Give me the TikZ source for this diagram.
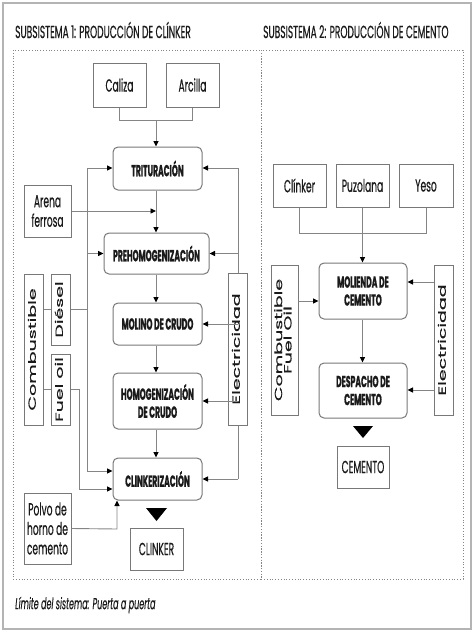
\documentclass[tikz,border=0pt]{standalone}
\usepackage{fontspec}
\setmainfont{Poppins}
\newfontfamily\nf[FakeStretch=0.52,FakeBold=0.4]{Poppins}
\newfontfamily\itfnt[FakeStretch=0.5,FakeBold=0.3]{Poppins}
\newfontfamily\bnf[FakeStretch=0.48,FakeBold=1]{Poppins}
\newfontfamily\rf[FakeBold=0.5]{Poppins}
\usetikzlibrary{arrows.meta}
\definecolor{boxgray}{HTML}{787878}
\definecolor{linegray}{HTML}{858585}
\definecolor{framegray}{HTML}{B4B4B4}
\definecolor{txt}{HTML}{1A1A1A}
\newcommand\vtext[1]{\rotatebox{90}{\scalebox{1}[0.55]{\rf\fontsize{19}{21}\selectfont\begin{tabular}{@{}c@{}}#1\end{tabular}}}}
\begin{document}
\begin{tikzpicture}[x=1pt,y=-1pt,
  box/.style={draw=boxgray, line width=1pt, fill=white, inner sep=0pt, align=center, text=txt,
    font=\nf\fontsize{17.5}{19.5}\selectfont},
  proc/.style={box, rounded corners=5pt, font=\bnf\bfseries\fontsize{16}{18}\selectfont},
  vbox/.style={box},
  ln/.style={draw=linegray, line width=0.9pt},
  arr/.style={ln, -{Stealth[length=5.5pt,width=5pt,inset=0pt,color=black]}},
  ttl/.style={anchor=west, inner sep=0pt, text=txt, font=\nf\fontsize{17.5}{19}\selectfont}]
\useasboundingbox (0,0) rectangle (474,632);
\draw[framegray, line width=1.5pt] (3,3) rectangle (471,629);
\draw[linegray, dotted, line width=0.8pt] (13,50) rectangle (261,579);
\draw[linegray, dotted, line width=0.8pt] (261,50) rectangle (463,579);
\node[ttl] (t1) at (15,30) {SUBSISTEMA 1: PRODUCCIÓN DE CLÍNKER};
\node[ttl] (t2) at (263,30) {SUBSISTEMA 2: PRODUCCIÓN DE CEMENTO};
\node[ttl, font=\itfnt\itshape\fontsize{16}{18}\selectfont] (lim) at (15,605) {Límite del sistema: Puerta a puerta};
% left subsystem
\node[box, minimum width=53pt, minimum height=44pt] (caliza) at (119.5,85) {Caliza};
\node[box, minimum width=53pt, minimum height=44pt] (arcilla) at (192.5,85) {Arcilla};
\node[proc, minimum width=89pt, minimum height=43pt] (trit) at (157.5,168.5) {TRITURACIÓN};
\node[box, minimum width=47pt, minimum height=52pt] (arena) at (47.5,211) {Arena\\ferrosa};
\node[proc, minimum width=105pt, minimum height=41pt] (prehomo) at (156.5,253.5) {PREHOMOGENIZACIÓN};
\node[proc, minimum width=89pt, minimum height=42pt] (molino) at (157.5,324) {MOLINO DE CRUDO};
\node[proc, minimum width=89pt, minimum height=56pt] (homog) at (157.5,401) {HOMOGENIZACIÓN\\DE CRUDO};
\node[proc, minimum width=89pt, minimum height=42pt] (clink) at (157.5,479) {CLINKERIZACIÓN};
\node[vbox, minimum width=19pt, minimum height=151pt] (comb) at (33.5,349.5) {\vtext{Combustible}};
\node[vbox, minimum width=19pt, minimum height=71pt] (diesel) at (60.5,309.5) {\vtext{Diésel}};
\node[vbox, minimum width=19pt, minimum height=71pt] (fuel) at (60.5,389.5) {\vtext{Fuel oil}};
\node[vbox, minimum width=19pt, minimum height=152pt] (elec) at (237.5,349) {\vtext{Electricidad}};
\node[box, minimum width=47pt, minimum height=71pt] (polvo) at (47.5,528.5) {Polvo de\\horno de\\cemento};
\node[box, minimum width=53pt, minimum height=42pt] (clinkerout) at (156.5,549) {CLINKER};
\fill[black] (146,508) -- (167,508) -- (156.5,521) -- cycle;
% left connectors
\coordinate (j1) at (156,120);
\draw[ln] (caliza.south) -- (caliza.south |- j1) -- (arcilla.south |- j1) -- (arcilla.south);
\draw[arr] (j1) -- (j1 |- trit.north);
\draw[arr] (j1 |- trit.south) -- (j1 |- prehomo.north);
\coordinate (ar) at (156,211);
\draw[arr] (arena.east) -- (ar);
\draw[arr] (j1 |- prehomo.south) -- (j1 |- molino.north);
\draw[arr] (j1 |- molino.south) -- (j1 |- homog.north);
\draw[arr] (j1 |- homog.south) -- (j1 |- clink.north);
\coordinate (bl1) at (87,168);
\coordinate (bl5) at (87,471);
\draw[ln] (bl1) -- (bl5);
\draw[arr] (bl1) -- (bl1 -| trit.west);
\draw[arr] (bl1 |- prehomo.west) -- (prehomo.west);
\draw[arr] (bl5) -- (bl5 -| clink.west);
\draw[ln] (diesel.east) -- (diesel.east -| bl1);
\draw[ln] (comb.east |- diesel.east) -- (diesel.west);
\draw[ln] (comb.east |- fuel.west) -- (fuel.west);
\coordinate (fo) at (79,489);
\draw[arr] (fuel.east) -| (fo) -- (fo -| clink.west);
\coordinate (pc) at (117,529);
\draw[arr] (polvo.east) -- (pc) -- (pc |- clink.south);
\coordinate (er1) at (238,168);
\coordinate (er5) at (238,479);
\draw[ln] (er1) -- (er1 |- elec.north);
\draw[ln] (er5 |- elec.south) -- (er5);
\draw[arr] (er1) -- (er1 -| trit.east);
\draw[arr] (er1 |- prehomo.east) -- (prehomo.east);
\draw[arr] (er1 |- molino.east) -- (molino.east);
\draw[arr] (er1 |- homog.east) -- (homog.east);
\draw[arr] (er5) -- (er5 -| clink.east);
% right subsystem
\node[box, minimum width=53pt, minimum height=43pt] (clinker) at (299.5,185.5) {Clínker};
\node[box, minimum width=53pt, minimum height=43pt] (puzo) at (362.5,185.5) {Puzolana};
\node[box, minimum width=54pt, minimum height=43pt] (yeso) at (426,185.5) {Yeso};
\node[proc, minimum width=88pt, minimum height=56pt] (mol) at (363,291) {MOLIENDA DE\\CEMENTO};
\node[proc, minimum width=88pt, minimum height=55pt] (desp) at (363,390.5) {DESPACHO DE\\CEMENTO};
\node[vbox, minimum width=27pt, minimum height=150pt] (combr) at (284.5,340) {\vtext{Combustible\\[-4pt]Fuel Oil}};
\node[vbox, minimum width=19pt, minimum height=150pt] (elecr) at (443.5,340) {\vtext{Electricidad}};
\node[box, minimum width=52pt, minimum height=42pt] (cemento) at (363,467) {CEMENTO};
\fill[black] (353,426) -- (373,426) -- (363,438) -- cycle;
\coordinate (j2) at (362.5,233);
\draw[ln] (clinker.south) -- (clinker.south |- j2) -- (yeso.south |- j2) -- (yeso.south);
\draw[ln] (puzo.south) -- (j2);
\draw[arr] (j2) -- (j2 |- mol.north);
\draw[arr] (j2 |- mol.south) -- (j2 |- desp.north);
\coordinate (cr) at (298,301);
\draw[arr] (cr) -- (cr -| mol.west);
\coordinate (e1) at (434,282);
\coordinate (e2) at (434,390);
\draw[arr] (e1) -- (e1 -| mol.east);
\draw[arr] (e2) -- (e2 -| desp.east);
\end{tikzpicture}
\end{document}
